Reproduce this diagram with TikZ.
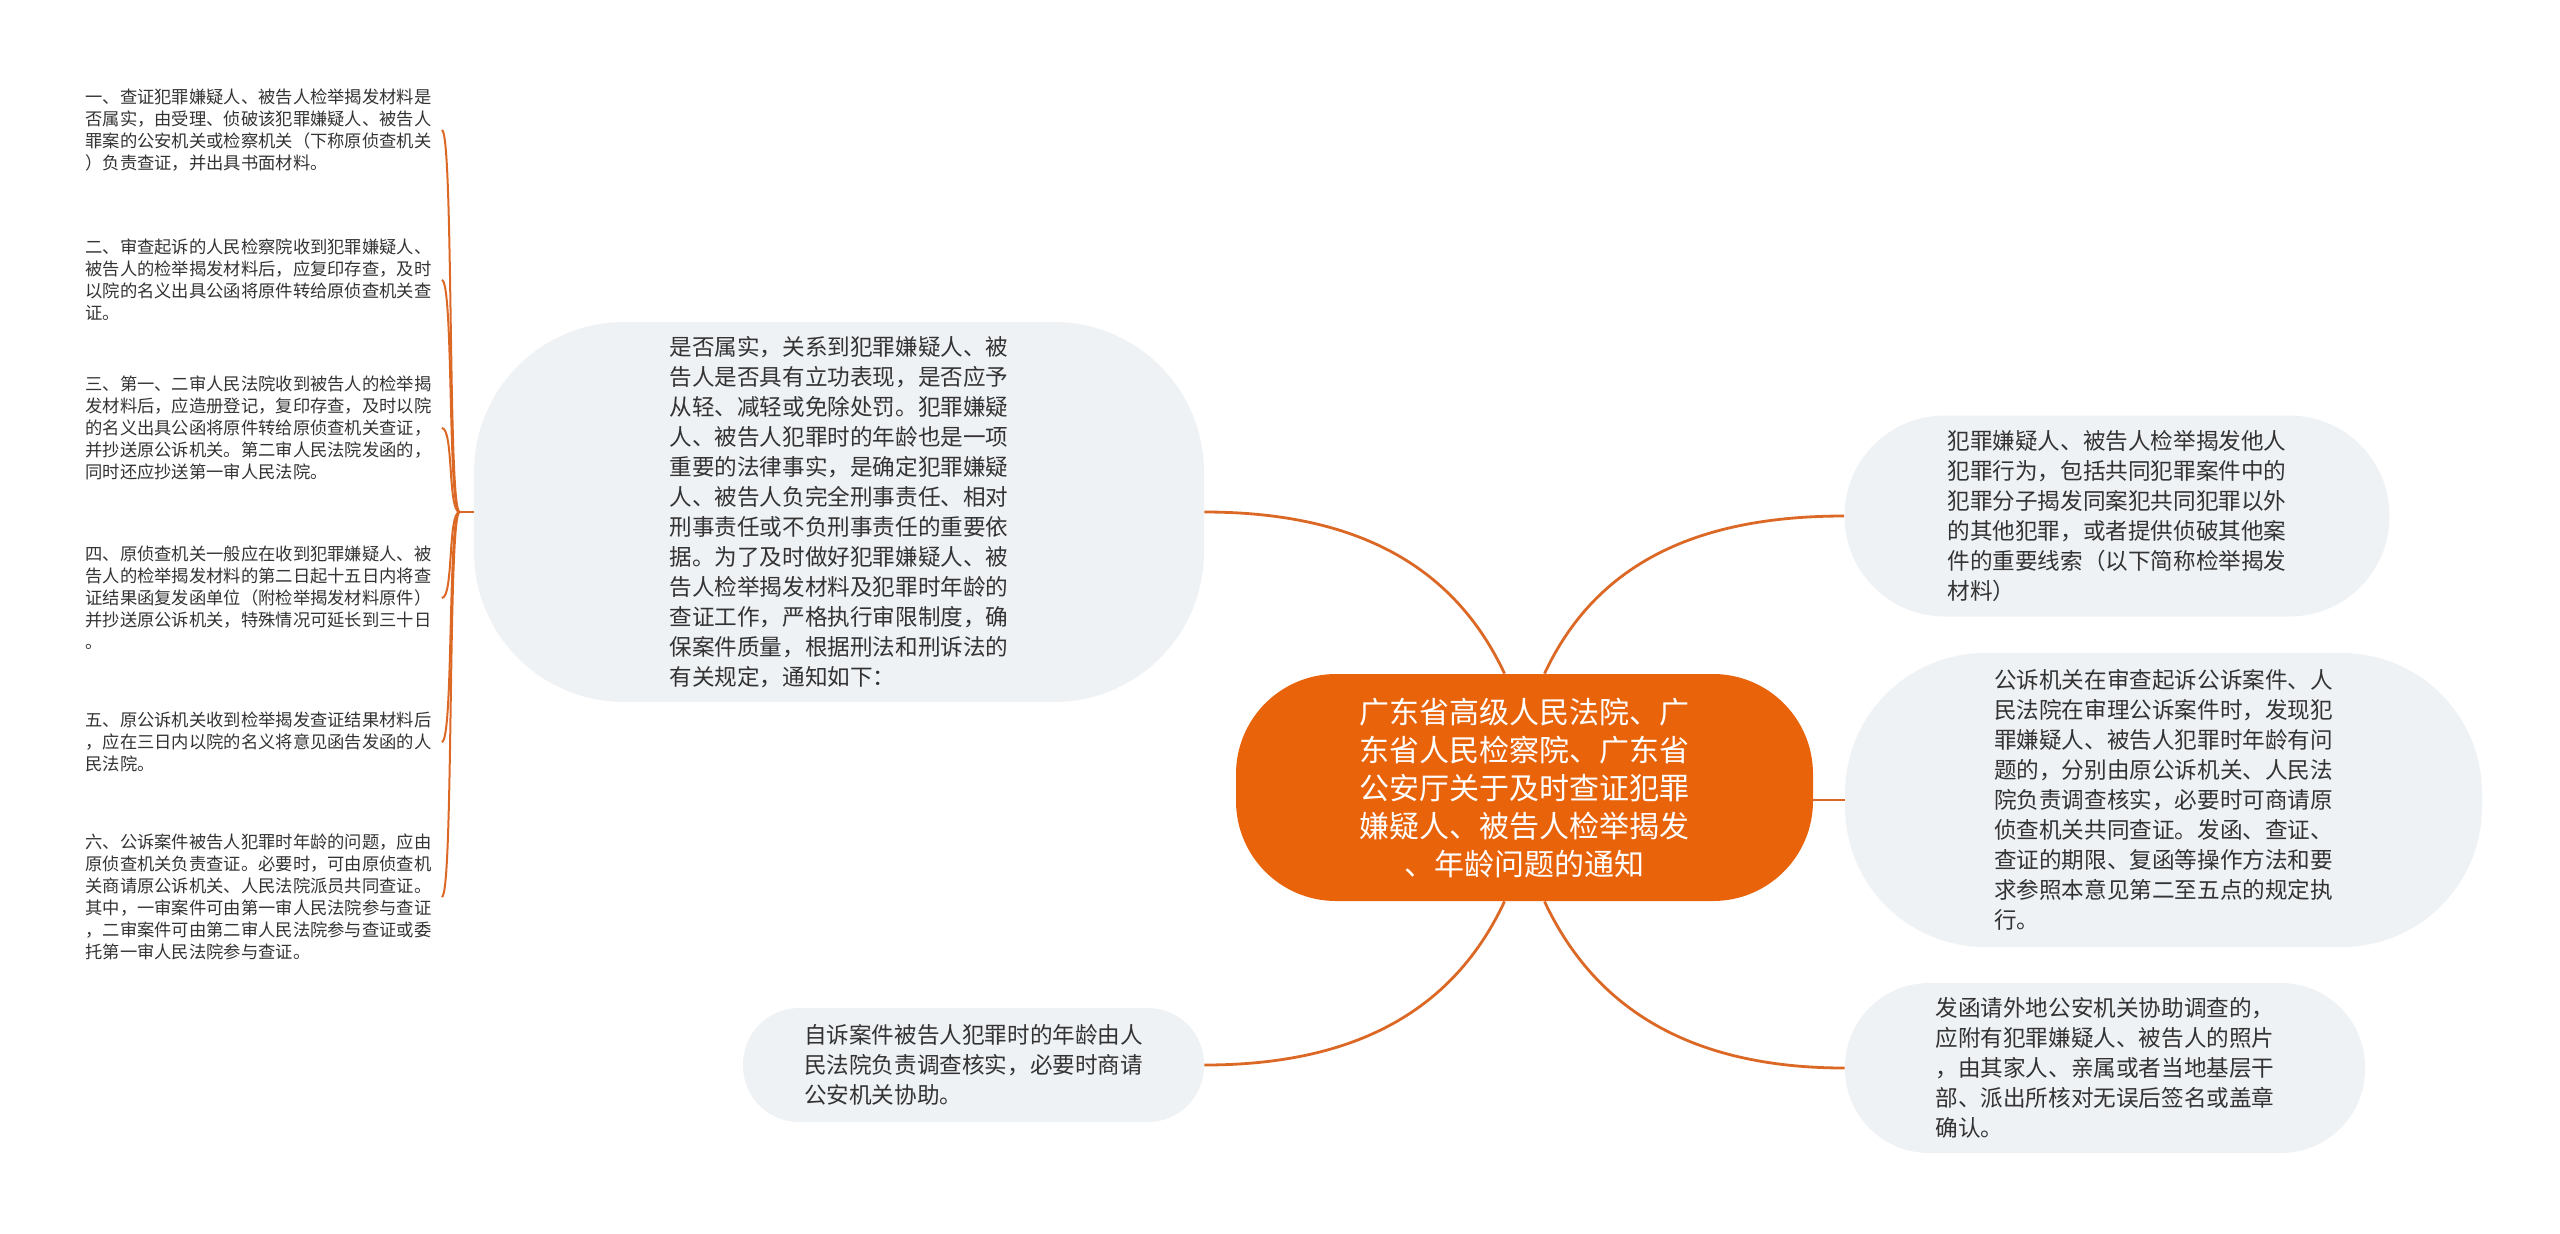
\documentclass[tikz,border=0pt]{standalone}
\usepackage{fontspec}
\setmainfont{Noto Sans CJK SC}
\usetikzlibrary{positioning}
\usetikzlibrary{calc}

\definecolor{rootorange}{RGB}{233,99,11}
\definecolor{linkorange}{RGB}{220,104,38}
\definecolor{boxgray}{RGB}{239,242,245}
\definecolor{textgray}{RGB}{51,51,51}

\begin{document}
\begin{tikzpicture}[x=0.5pt,y=-0.5pt]
  \tikzset{rootbox/.style={rectangle,fill=rootorange,text=white,align=center,inner sep=0pt,
                           font=\fontsize{15}{19}\selectfont},
           topicbox/.style={rectangle,fill=boxgray,text=textgray,align=left,inner sep=0pt,
                            font=\fontsize{11.3}{15}\selectfont},
           notebox/.style={text=textgray,align=left,anchor=west,inner xsep=5pt,inner ysep=0pt,
                           font=\fontsize{8.65}{11}\selectfont},
           link/.style={draw=linkorange,line width=1.4pt},
           twig/.style={draw=linkorange,line width=1pt}}
  \useasboundingbox (0,0) rectangle (2560,1233);

  \node[rootbox,minimum width=288.5pt,minimum height=113.5pt,rounded corners=50pt] (root) at (1524.5,787.5) {
    广东省高级人民法院、广\\
    东省人民检察院、广东省\\
    公安厅关于及时查证犯罪\\
    嫌疑人、被告人检举揭发\\
    、年龄问题的通知};

  \node[topicbox,minimum width=365pt,minimum height=190pt,rounded corners=75pt] (facts) at (839,512) {
    是否属实，关系到犯罪嫌疑人、被\\
    告人是否具有立功表现，是否应予\\
    从轻、减轻或免除处罚。犯罪嫌疑\\
    人、被告人犯罪时的年龄也是一项\\
    重要的法律事实，是确定犯罪嫌疑\\
    人、被告人负完全刑事责任、相对\\
    刑事责任或不负刑事责任的重要依\\
    据。为了及时做好犯罪嫌疑人、被\\
    告人检举揭发材料及犯罪时年龄的\\
    查证工作，严格执行审限制度，确\\
    保案件质量，根据刑法和刑诉法的\\
    有关规定，通知如下：};
  \node[topicbox,minimum width=230.5pt,minimum height=57pt,rounded corners=28pt] (selfcase) at (973.5,1065) {
    自诉案件被告人犯罪时的年龄由人\\
    民法院负责调查核实，必要时商请\\
    公安机关协助。};
  \node[topicbox,minimum width=272.5pt,minimum height=100.5pt,rounded corners=50pt] (report) at (2117,516) {
    犯罪嫌疑人、被告人检举揭发他人\\
    犯罪行为，包括共同犯罪案件中的\\
    犯罪分子揭发同案犯共同犯罪以外\\
    的其他犯罪，或者提供侦破其他案\\
    件的重要线索（以下简称检举揭发\\
    材料）};
  \node[topicbox,minimum width=318.5pt,minimum height=147pt,rounded corners=70pt] (publiccase) at (2163.5,800) {
    公诉机关在审查起诉公诉案件、人\\
    民法院在审理公诉案件时，发现犯\\
    罪嫌疑人、被告人犯罪时年龄有问\\
    题的，分别由原公诉机关、人民法\\
    院负责调查核实，必要时可商请原\\
    侦查机关共同查证。发函、查证、\\
    查证的期限、复函等操作方法和要\\
    求参照本意见第二至五点的规定执\\
    行。};
  \node[topicbox,minimum width=260pt,minimum height=85pt,rounded corners=42pt] (photo) at (2105,1068) {
    发函请外地公安机关协助调查的，\\
    应附有犯罪嫌疑人、被告人的照片\\
    ，由其家人、亲属或者当地基层干\\
    部、派出所核对无误后签名或盖章\\
    确认。};

  % notice items on the left
  \node[notebox] (item1) at (75,130) {
    一、查证犯罪嫌疑人、被告人检举揭发材料是\\
    否属实，由受理、侦破该犯罪嫌疑人、被告人\\
    罪案的公安机关或检察机关（下称原侦查机关\\
    ）负责查证，并出具书面材料。};
  \node[notebox] (item2) at (75,280) {
    二、审查起诉的人民检察院收到犯罪嫌疑人、\\
    被告人的检举揭发材料后，应复印存查，及时\\
    以院的名义出具公函将原件转给原侦查机关查\\
    证。};
  \node[notebox] (item3) at (75,428) {
    三、第一、二审人民法院收到被告人的检举揭\\
    发材料后，应造册登记，复印存查，及时以院\\
    的名义出具公函将原件转给原侦查机关查证，\\
    并抄送原公诉机关。第二审人民法院发函的，\\
    同时还应抄送第一审人民法院。};
  \node[notebox] (item4) at (75,598) {
    四、原侦查机关一般应在收到犯罪嫌疑人、被\\
    告人的检举揭发材料的第二日起十五日内将查\\
    证结果函复发函单位（附检举揭发材料原件）\\
    并抄送原公诉机关，特殊情况可延长到三十日\\
    。};
  \node[notebox] (item5) at (75,742) {
    五、原公诉机关收到检举揭发查证结果材料后\\
    ，应在三日内以院的名义将意见函告发函的人\\
    民法院。};
  \node[notebox] (item6) at (75,897) {
    六、公诉案件被告人犯罪时年龄的问题，应由\\
    原侦查机关负责查证。必要时，可由原侦查机\\
    关商请原公诉机关、人民法院派员共同查证。\\
    其中，一审案件可由第一审人民法院参与查证\\
    ，二审案件可由第二审人民法院参与查证或委\\
    托第一审人民法院参与查证。};

  \draw[link] (facts.east) to[out=0,in=115] ([xshift=-10pt]root.north);
  \draw[link] ([xshift=-10pt]root.south) to[out=-115,in=0] (selfcase.east);
  \draw[link] ([xshift=10pt]root.north) to[out=65,in=180] (report.west);
  \draw[link] (root.east |- publiccase.west) -- (publiccase.west);
  \draw[link] ([xshift=10pt]root.south) to[out=-65,in=180] (photo.west);

  \coordinate (hub) at ($(facts.west)+(-14,0)$);
  \draw[twig] (facts.west) -- (hub);
  \draw[twig] (hub) .. controls +(-12,0) and +(12,0) .. (item1.east);
  \draw[twig] (hub) .. controls +(-12,0) and +(12,0) .. (item2.east);
  \draw[twig] (hub) .. controls +(-12,0) and +(12,0) .. (item3.east);
  \draw[twig] (hub) .. controls +(-12,0) and +(12,0) .. (item4.east);
  \draw[twig] (hub) .. controls +(-12,0) and +(12,0) .. (item5.east);
  \draw[twig] (hub) .. controls +(-12,0) and +(12,0) .. (item6.east);
\end{tikzpicture}
\end{document}
